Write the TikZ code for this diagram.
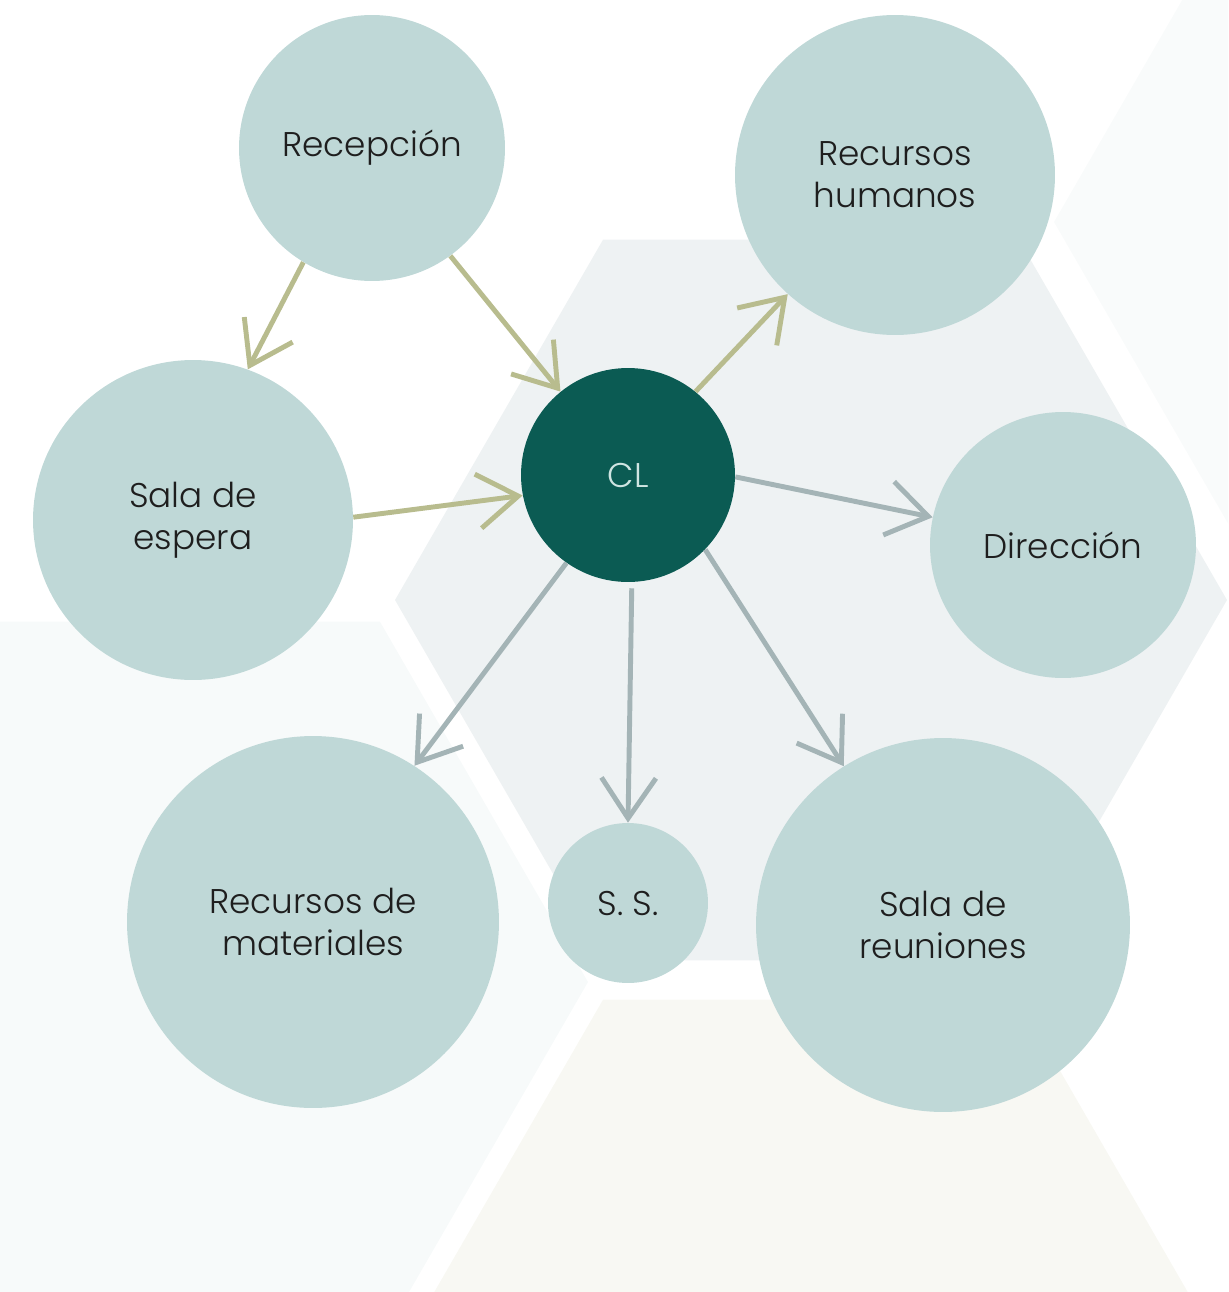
\documentclass[tikz,border=0pt]{standalone}
\usepackage{fontspec}
\setmainfont{Poppins}[UprightFont=* Light]
\usetikzlibrary{arrows.meta}
\definecolor{circ}{HTML}{BFD8D7}
\definecolor{verdeosc}{HTML}{0B5B53}
\definecolor{clara}{HTML}{CFE5E2}
\definecolor{texto}{HTML}{1E1E1E}
\definecolor{oliva}{HTML}{B8BC8E}
\definecolor{grisazul}{HTML}{A4B4B6}
\definecolor{hexcentro}{HTML}{EEF2F3}
\definecolor{hexclaro}{HTML}{F9FBFB}
\definecolor{hexizq}{HTML}{F7FAFA}
\definecolor{hexbeige}{HTML}{F8F8F3}
\begin{document}
\begin{tikzpicture}[x=0.02cm, y=-0.02cm,
  circulo/.style={circle, fill=circ, text=texto, align=center, inner sep=0pt,
    font=\fontsize{19.5}{23.8}\selectfont},
  central/.style={circulo, fill=verdeosc, text=clara},
  flechaverde/.style={draw=oliva, line width=2.8pt, -{Straight Barb[length=23pt, width=31pt]}},
  flechagris/.style={flechaverde, draw=grisazul}]
  % ── fondo: panal de hexágonos muy claros ──
  \clip (0,0) rectangle (1228,1292);
  \foreach \cx/\cy/\tono in {811/600/hexcentro, 1470/222/hexclaro, 172/982/hexizq, 811/1360/hexbeige} {
    \fill[\tono] (\cx,\cy) +(0:416) -- +(60:416) -- +(120:416) -- +(180:416)
      -- +(240:416) -- +(300:416) -- cycle;
  }
  % ── áreas ──
  \node[circulo, minimum size=5.32cm] (recepcion) at (372,148) {Recepción};
  \node[circulo, minimum size=6.4cm]  (rrhh)      at (895,175) {Recursos\\humanos};
  \node[circulo, minimum size=6.4cm]  (espera)    at (193,520) {Sala de\\espera};
  \node[central, minimum size=4.28cm] (cl)        at (628,475) {CL};
  \node[circulo, minimum size=5.32cm] (direccion) at (1063,545) {Dirección};
  \node[circulo, minimum size=7.44cm] (materiales) at (313,922) {Recursos de\\materiales};
  \node[circulo, minimum size=3.2cm]  (ss)        at (628,903) {S. S.};
  \node[circulo, minimum size=7.48cm] (reuniones) at (943,925) {Sala de\\reuniones};
  % ── flujos de entrada (verde oliva) ──
  \draw[flechaverde] (recepcion.239) -- (espera.70);
  \draw[flechaverde] (recepcion.306) -- (cl.129);
  \draw[flechaverde] (espera.1) -- (cl.191);
  \draw[flechaverde] (cl.51) -- (rrhh.228);
  % ── salidas desde CL (gris) ──
  \draw[flechagris] (cl.359) -- (direccion.168);
  \draw[flechagris] (cl.235) -- (materiales.57);
  \draw[flechagris] ([yshift=-0.12cm]cl.272) -- (ss.90);
  \draw[flechagris] (cl.316) -- (reuniones.122);
\end{tikzpicture}
\end{document}
